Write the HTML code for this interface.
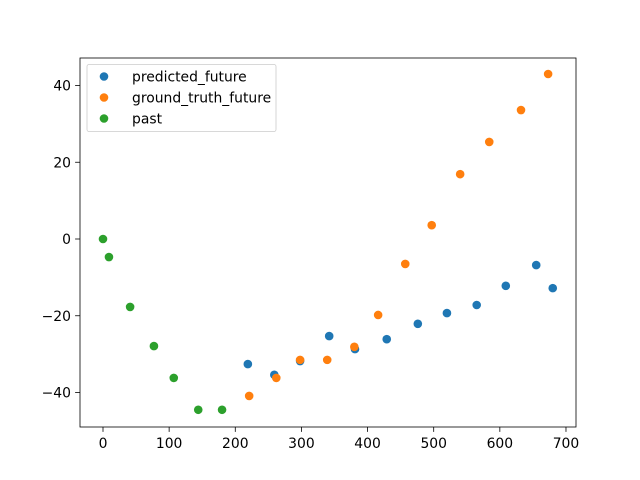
<!DOCTYPE html>
<html><head><meta charset="utf-8"><style>
html,body{margin:0;padding:0;background:#fff;}
svg{display:block;font-family:"DejaVu Sans","Liberation Sans",sans-serif;}
</style></head><body>
<svg id="chart" width="640" height="480" xmlns="http://www.w3.org/2000/svg"></svg>
<script>
const xTicks=[0,100,200,300,400,500,600,700];
const yTicks=[-40,-20,0,20,40];
const pastX=[0,9,41,77,107,144,180];
const pastY=[0,-4.7,-17.7,-27.9,-36.2,-44.5,-44.5];
const predX=[219,259,298,342,381,429,476,520,565,609,655,680];
const predY=[-32.6,-35.4,-31.8,-25.3,-28.7,-26.1,-22.1,-19.3,-17.2,-12.2,-6.8,-12.8];
const truthX=[221,262,298,339,380,416,457,497,540,584,632,673];
const truthY=[-40.9,-36.2,-31.5,-31.5,-28.1,-19.8,-6.5,3.6,16.9,25.3,33.6,43.0];
const legendLabels=["predicted_future","ground_truth_future","past"];

const NS="http://www.w3.org/2000/svg";
const svg=document.getElementById('chart');
const L=80,R=576,T=58,B=427;
function sx(v){return 103+v*0.6614;}
function sy(v){return 239-v*3.8375;}
function mk(tag,attrs,parent){const e=document.createElementNS(NS,tag);for(const k in attrs)e.setAttribute(k,attrs[k]);(parent||svg).appendChild(e);return e;}

const frame=mk('rect',{x:L,y:T,width:R-L,height:B-T,fill:'none',stroke:'#000','stroke-width':0.8});



xTicks.forEach(t=>{
  const g=mk('g',{});
  
  
  mk('line',{x1:sx(t),x2:sx(t),y1:B,y2:B+4.9,stroke:'#000','stroke-width':0.8},g);
  const tx=mk('text',{x:sx(t),y:B+21,'text-anchor':'middle','font-size':13.9,fill:'#000'},g);
  tx.textContent=t;
});
yTicks.forEach(t=>{
  const g=mk('g',{});
  
  
  mk('line',{x1:L-4.9,x2:L,y1:sy(t),y2:sy(t),stroke:'#000','stroke-width':0.8},g);
  const tx=mk('text',{x:L-9,y:sy(t)+5,'text-anchor':'end','font-size':13.9,fill:'#000'},g);
  tx.textContent=t<0?'\u2212'+Math.abs(t):t;
});

function series(xs,ys,color,name){
  const g=mk('g',{});
  
  
  xs.forEach((x,i)=>{
    const c=mk('circle',{cx:sx(x),cy:sy(ys[i]),r:4.3,fill:color},g);
    
    
  });
}
series(predX,predY,'#1f77b4','predicted-future-series');
series(truthX,truthY,'#ff7f0e','ground-truth-future-series');
series(pastX,pastY,'#2ca02c','past-series');

const lg=mk('g',{});


mk('rect',{x:87,y:64.5,width:189,height:67,rx:2,fill:'#fff','fill-opacity':0.8,stroke:'#ccc','stroke-width':0.8},lg);
const colors=['#1f77b4','#ff7f0e','#2ca02c'];
legendLabels.forEach((lab,i)=>{
  const e=mk('g',{},lg);
  
  
  mk('circle',{cx:104,cy:76.5+i*21,r:4.3,fill:colors[i]},e);
  const t=mk('text',{x:132,y:81.5+i*21,'font-size':13.9,fill:'#000'},e);
  t.textContent=lab;
});
</script>
</body></html>
